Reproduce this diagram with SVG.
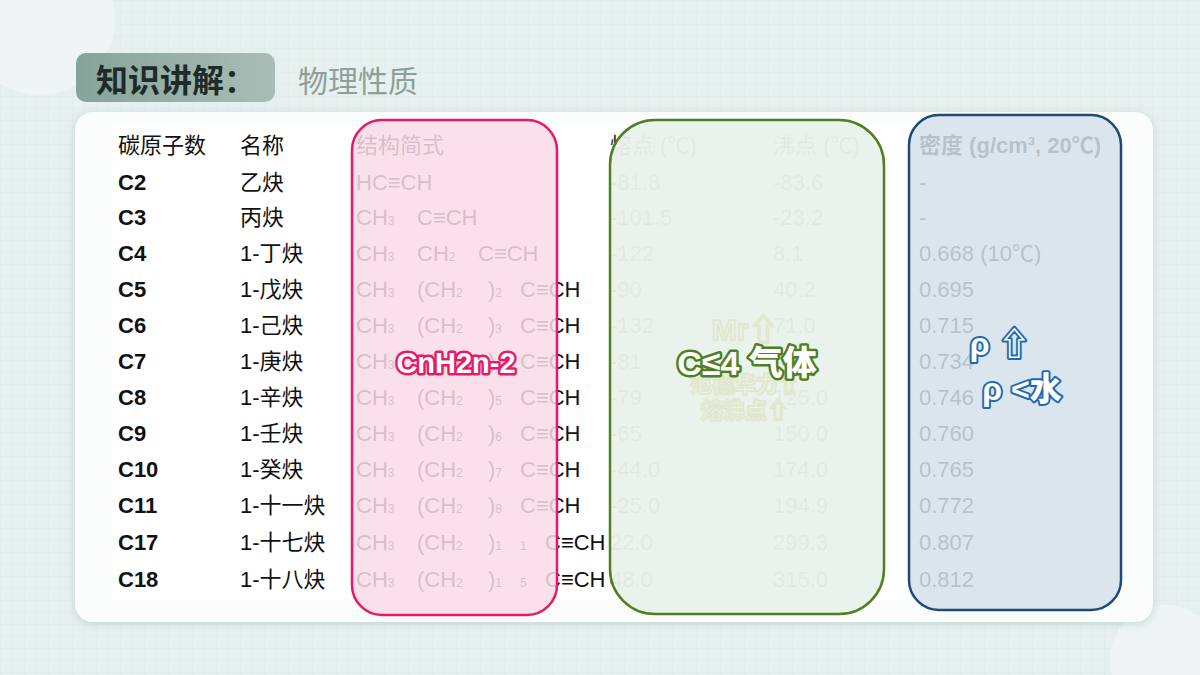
<svg xmlns="http://www.w3.org/2000/svg" width="1200" height="675" viewBox="0 0 1200 675">
<defs>
<pattern id="grid" width="12" height="12" patternUnits="userSpaceOnUse"><path d="M12 0H0V12" fill="none" stroke="#d6e6e4" stroke-width="0.6"/></pattern>
<linearGradient id="tg" x1="0" y1="0" x2="1" y2="0"><stop offset="0" stop-color="#86a39a"/><stop offset="1" stop-color="#a9bdb6"/></linearGradient>
<filter id="sh" x="-5%" y="-5%" width="110%" height="110%"><feDropShadow dx="0" dy="2" stdDeviation="4" flood-color="#9fb9b5" flood-opacity="0.5"/></filter>
</defs>
<style>
text{font-family:"Liberation Sans","Noto Sans CJK SC",sans-serif;font-size:22px;fill:#111}
.b{font-weight:bold}
.s{font-size:12px}
.lbl{font-weight:900;stroke-width:5;paint-order:stroke;stroke-linejoin:round}
.fnt{font-weight:900;fill:none;stroke:#e2e7d0;stroke-width:2}
</style>
<rect width="1200" height="675" fill="#e6f0ef"/>
<rect width="1200" height="675" fill="url(#grid)"/>
<circle cx="40" cy="20" r="75" fill="#eef5f4"/>
<circle cx="1165" cy="660" r="55" fill="#eef5f4"/>
<g id="title">
<rect x="76" y="53" width="199" height="49" rx="10" fill="url(#tg)"/>
<text x="96" y="92" style="font-size:32px;font-weight:bold;fill:#1e2b28">知识讲解：</text>
<text x="298" y="92" style="font-size:30px;fill:#8e9e98">物理性质</text>
</g>
<g id="panel">
<rect x="75" y="112" width="1078" height="510" rx="18" fill="#fbfdfd" filter="url(#sh)"/>
<rect x="113" y="125" width="1007" height="475" fill="#fff"/>
</g>
<g id="table">
<text x="118" y="153">碳原子数</text><text x="240" y="153">名称</text><text x="356" y="153">结构简式</text><text x="610" y="153">熔点 (℃)</text><text x="773" y="153">沸点 (℃)</text><text x="919" y="153" class="b">密度 (g/cm³, 20℃)</text>
<text x="118" y="190" class="b">C2</text><text x="118" y="225" class="b">C3</text><text x="118" y="261" class="b">C4</text><text x="118" y="297" class="b">C5</text><text x="118" y="333" class="b">C6</text><text x="118" y="369" class="b">C7</text><text x="118" y="405" class="b">C8</text><text x="118" y="441" class="b">C9</text><text x="118" y="477" class="b">C10</text><text x="118" y="513" class="b">C11</text><text x="118" y="550" class="b">C17</text><text x="118" y="587" class="b">C18</text>
<text x="240" y="190">乙炔</text><text x="240" y="225">丙炔</text><text x="240" y="261">1-丁炔</text><text x="240" y="297">1-戊炔</text><text x="240" y="333">1-己炔</text><text x="240" y="369">1-庚炔</text><text x="240" y="405">1-辛炔</text><text x="240" y="441">1-壬炔</text><text x="240" y="477">1-癸炔</text><text x="240" y="513">1-十一炔</text><text x="240" y="550">1-十七炔</text><text x="240" y="587">1-十八炔</text>
<text x="356" y="190">HC≡CH</text>
<text x="356" y="225">CH<tspan class="s">3</tspan><tspan x="417">C≡CH</tspan></text>
<text x="356" y="261">CH<tspan class="s">3</tspan><tspan x="417">CH</tspan><tspan class="s">2</tspan><tspan x="478">C≡CH</tspan></text>
<text x="356" y="297">CH<tspan class="s">3</tspan><tspan x="417">(CH</tspan><tspan class="s">2</tspan><tspan x="488">)</tspan><tspan class="s">2</tspan><tspan x="520">C≡CH</tspan></text>
<text x="356" y="333">CH<tspan class="s">3</tspan><tspan x="417">(CH</tspan><tspan class="s">2</tspan><tspan x="488">)</tspan><tspan class="s">3</tspan><tspan x="520">C≡CH</tspan></text>
<text x="356" y="369">CH<tspan class="s">3</tspan><tspan x="417">(CH</tspan><tspan class="s">2</tspan><tspan x="488">)</tspan><tspan class="s">4</tspan><tspan x="520">C≡CH</tspan></text>
<text x="356" y="405">CH<tspan class="s">3</tspan><tspan x="417">(CH</tspan><tspan class="s">2</tspan><tspan x="488">)</tspan><tspan class="s">5</tspan><tspan x="520">C≡CH</tspan></text>
<text x="356" y="441">CH<tspan class="s">3</tspan><tspan x="417">(CH</tspan><tspan class="s">2</tspan><tspan x="488">)</tspan><tspan class="s">6</tspan><tspan x="520">C≡CH</tspan></text>
<text x="356" y="477">CH<tspan class="s">3</tspan><tspan x="417">(CH</tspan><tspan class="s">2</tspan><tspan x="488">)</tspan><tspan class="s">7</tspan><tspan x="520">C≡CH</tspan></text>
<text x="356" y="513">CH<tspan class="s">3</tspan><tspan x="417">(CH</tspan><tspan class="s">2</tspan><tspan x="488">)</tspan><tspan class="s">8</tspan><tspan x="520">C≡CH</tspan></text>
<text x="356" y="550">CH<tspan class="s">3</tspan><tspan x="417">(CH</tspan><tspan class="s">2</tspan><tspan x="488">)</tspan><tspan class="s">1</tspan><tspan x="520" class="s">1</tspan><tspan x="545">C≡CH</tspan></text>
<text x="356" y="587">CH<tspan class="s">3</tspan><tspan x="417">(CH</tspan><tspan class="s">2</tspan><tspan x="488">)</tspan><tspan class="s">1</tspan><tspan x="520" class="s">5</tspan><tspan x="545">C≡CH</tspan></text>
<text x="610" y="190">-81.8</text><text x="610" y="225">-101.5</text><text x="610" y="261">-122</text><text x="610" y="297">-90</text><text x="610" y="333">-132</text><text x="610" y="369">-81</text><text x="610" y="405">-79</text><text x="610" y="441">-65</text><text x="610" y="477">-44.0</text><text x="610" y="513">-25.0</text><text x="610" y="550">22.0</text><text x="610" y="587">48.0</text>
<text x="773" y="190">-83.6</text><text x="773" y="225">-23.2</text><text x="773" y="261">8.1</text><text x="773" y="297">40.2</text><text x="773" y="333">71.0</text><text x="773" y="369">99.7</text><text x="773" y="405">125.0</text><text x="773" y="441">150.0</text><text x="773" y="477">174.0</text><text x="773" y="513">194.9</text><text x="773" y="550">299.3</text><text x="773" y="587">315.0</text>
<text x="919" y="190">-</text><text x="919" y="225">-</text><text x="919" y="261">0.668 (10℃)</text><text x="919" y="297">0.695</text><text x="919" y="333">0.715</text><text x="919" y="369">0.734</text><text x="919" y="405">0.746</text><text x="919" y="441">0.760</text><text x="919" y="477">0.765</text><text x="919" y="513">0.772</text><text x="919" y="550">0.807</text><text x="919" y="587">0.812</text>
</g>
<g id="pink">
<rect x="352" y="120" width="205" height="495" rx="30" fill="#f9dbe7" fill-opacity="0.86" stroke="#e8196a" stroke-width="2.5"/>
<text x="456" y="373" text-anchor="middle" class="lbl" style="font-size:29px;fill:#fff;stroke:#e8196a">CnH2n-2</text>
</g>
<g id="green">
<rect x="610" y="120" width="274" height="494" rx="45" fill="#e9f3ea" fill-opacity="0.96" stroke="#4f7f24" stroke-width="2.5"/>
<text x="745" y="340" text-anchor="middle" class="fnt" style="font-size:30px">Mr⇧</text>
<text x="745" y="392" text-anchor="middle" class="fnt" style="font-size:22px">范德华力⇧</text>
<text x="745" y="418" text-anchor="middle" class="fnt" style="font-size:22px">熔沸点⇧</text>
<text x="747" y="375" text-anchor="middle" class="lbl" style="font-size:34px;fill:#fff;stroke:#4f7f24">C≤4 气体</text>
</g>
<g id="blue">
<rect x="909" y="115" width="212" height="495" rx="30" fill="#d5e0ea" fill-opacity="0.85" stroke="#1f4a78" stroke-width="2.5"/>
<text x="1000" y="355" text-anchor="middle" class="lbl" style="font-size:32px;fill:#fff;stroke:#1f6ab0;stroke-width:4">ρ ⇧</text>
<text x="1022" y="400" text-anchor="middle" class="lbl" style="font-size:32px;fill:#fff;stroke:#1f6ab0;stroke-width:4">ρ &lt;水</text>
</g>
</svg>
